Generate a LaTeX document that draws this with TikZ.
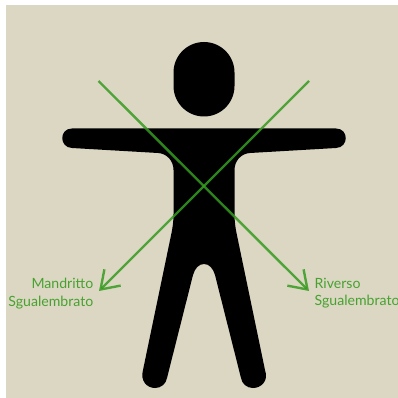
\documentclass[tikz,border=0pt]{standalone}
\usepackage{fontspec}
\setmainfont{Lato}
\usepackage{tikz}
\usetikzlibrary{arrows.meta, positioning}
\definecolor{parchment}{RGB}{220, 215, 195}
\definecolor{cutgreen}{RGB}{54, 156, 32}
\tikzset{
  cutline/.style={-{Straight Barb[length=17pt, width=23pt]}, cutgreen, opacity=0.85, line width=2.4pt},
  cutlabel/.style={font=\fontsize{14.1}{17.5}\selectfont, text=cutgreen, text opacity=0.9, inner sep=0pt}
}

\begin{document}
\begin{tikzpicture}[x=1pt, y=-1pt]
        \useasboundingbox (0,0) rectangle (398,398);
        % background
        \fill[parchment] (6,5) rectangle (398,398);

        % head
        \fill[black, rounded corners=30.5pt] (173.5,42) rectangle (234.5,116.5);

        % body (left arm, left leg, right leg, right arm)
        \fill[black] (72,128.5) -- (336,128.5)
          .. controls (349,128.5) and (349,147.5) .. (336,148)
          -- (250,153)
          .. controls (241,153.5) and (234.5,161) .. (234.5,170)
          -- (234.5,214)
          .. controls (234.5,222) and (235.5,228) .. (236.5,233)
          -- (265,370)
          .. controls (269,381) and (261,388) .. (253,388)
          .. controls (247,388) and (242,384) .. (241,378)
          -- (215,275)
          .. controls (213,268) and (209,264) .. (204,264)
          .. controls (199,264) and (195,268) .. (193,275)
          -- (167,378)
          .. controls (166,384) and (161,388) .. (155,388)
          .. controls (147,388) and (140,381) .. (143,370)
          -- (171.5,233)
          .. controls (172.5,228) and (173.5,222) .. (173.5,214)
          -- (173.5,170)
          .. controls (173.5,161) and (167,153.5) .. (158,153)
          -- (72,148)
          .. controls (59,147.5) and (59,128.5) .. (72,128.5) -- cycle;

        % cuts
        \coordinate (mandrittoStart) at (309,81);
        \coordinate (mandrittoEnd) at (99,291);
        \coordinate (riversoStart) at (98.5,81);
        \coordinate (riversoEnd) at (309,291);
        \draw[cutline] (mandrittoStart) -- (mandrittoEnd);
        \draw[cutline] (riversoStart) -- (riversoEnd);

        % labels
        \node[cutlabel, align=right, anchor=north east] (mandritto) at (93.5,278)
          {Mandritto\\Sgualembrato};
        \node[cutlabel, align=left, anchor=north west] (riverso) at (314.5,278)
          {Riverso\\Sgualembrato};
      \end{tikzpicture}
\end{document}
